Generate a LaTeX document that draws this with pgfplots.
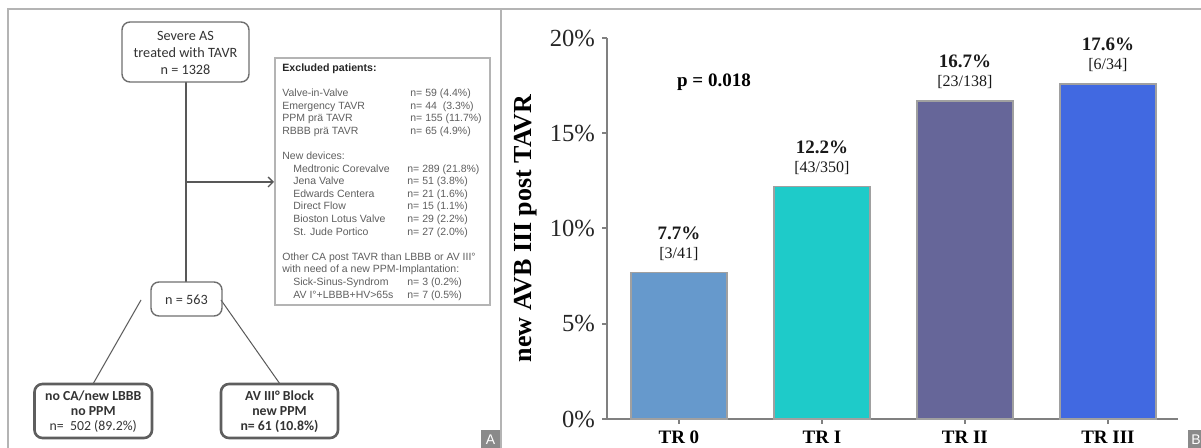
\documentclass[border=0pt]{standalone}
\usepackage{pgfplots}
\pgfplotsset{compat=1.18}
\usepackage{fontspec}
\usetikzlibrary{arrows.meta}
\setmainfont{Liberation Serif}
\newfontfamily\arialf{Liberation Sans}
\newfontfamily\calib{Carlito}
\definecolor{cA}{HTML}{6699CC}
\definecolor{cB}{HTML}{1ECBC9}
\definecolor{cC}{HTML}{666699}
\definecolor{cD}{HTML}{4169E1}
\definecolor{framegray}{HTML}{B4B4B4}
\definecolor{axgray}{HTML}{808080}
\definecolor{bargray}{HTML}{A0A0A0}
\definecolor{exgray}{HTML}{5E5E5E}
\definecolor{boxline}{HTML}{6E6E6E}
\definecolor{boxtext}{HTML}{333333}
\definecolor{lblgray}{HTML}{8A8A8A}
\newcommand{\exl}[3]{\node[anchor=base west,inner sep=0pt,font=\arialf\fontsize{5.25}{6}\selectfont,text=exgray] at (#1,#2) {#3};}
\begin{document}
\begin{tikzpicture}
\path[use as bounding box] (0,0) rectangle (600.5pt,-224pt);
\begin{scope}[x=0.5pt,y=-0.5pt]
  % panel frames
  \draw[framegray,line width=0.8pt] (8,460) -- (8,9) -- (1210,9);
  \draw[framegray,line width=0.8pt] (501,9) -- (501,460);
  % panel letters
  \fill[lblgray] (481,430) rectangle (500,450);
  \node[white,font=\arialf\fontsize{7}{8}\selectfont] at (490.5,440) {A};
  \fill[lblgray] (1188,430) rectangle (1215,450);
  \node[white,font=\arialf\fontsize{7}{8}\selectfont] at (1196,440) {B};
  % connectors
  \draw[boxline!80!black,line width=0.7pt] (186,82) -- (186,282);
  \draw[boxline!80!black,line width=0.7pt,-{Straight Barb[length=2.5pt,width=5pt]}] (186,182) -- (274,182);
  \draw[boxline!80!black,line width=0.5pt] (141,300) -- (93,384);
  \draw[boxline!80!black,line width=0.5pt] (221,300) -- (280,384);
  % top box
  \draw[boxline,line width=0.7pt,rounded corners=4pt] (122,22) rectangle (249,82);
  \node[align=center,text=boxtext,font=\calib\fontsize{7.1}{8.5}\selectfont] at (185.5,53) {Severe AS\\treated with TAVR\\n = 1328};
  % middle box
  \draw[boxline,line width=0.7pt,rounded corners=4pt] (151,282) rectangle (222,316);
  \node[text=boxtext,font=\calib\fontsize{7.1}{8.5}\selectfont] at (186.5,300) {n = 563};
  % bottom boxes
  \draw[boxline!85!black,line width=1.3pt,rounded corners=4pt] (34.5,384) rectangle (152,438);
  \node[align=center,text=boxtext,font=\calib\fontsize{6.9}{7.6}\selectfont] at (93.25,411.5) {\textbf{no CA/new LBBB}\\\textbf{no PPM}\\n=~ 502 (89.2\%)};
  \draw[boxline!85!black,line width=1.3pt,rounded corners=4pt] (221,384) rectangle (338,438);
  \node[align=center,text=boxtext,font=\calib\bfseries\fontsize{6.9}{7.6}\selectfont] at (279.5,411.5) {AV III° Block\\new PPM\\n= 61 (10.8\%)};
  % excluded box
  \draw[framegray,line width=0.7pt] (275,58) rectangle (490,305);
  \node[anchor=base west,inner sep=0pt,font=\arialf\bfseries\fontsize{5.3}{6}\selectfont,text=black!85] at (282,71.3) {Excluded patients:};
  \exl{282}{96.5}{Valve-in-Valve}      \exl{410}{96.5}{n= 59 (4.4\%)}
  \exl{282}{109.1}{Emergency TAVR}     \exl{410}{109.1}{n= 44~ (3.3\%)}
  \exl{282}{121.7}{PPM prä TAVR}       \exl{410}{121.7}{n= 155 (11.7\%)}
  \exl{282}{134.3}{RBBB prä TAVR}      \exl{410}{134.3}{n= 65 (4.9\%)}
  \exl{282}{159.5}{New devices:}
  \exl{293}{172.1}{Medtronic Corevalve} \exl{407}{172.1}{n= 289 (21.8\%)}
  \exl{293}{184.7}{Jena Valve}          \exl{407}{184.7}{n= 51 (3.8\%)}
  \exl{293}{197.3}{Edwards Centera}     \exl{407}{197.3}{n= 21 (1.6\%)}
  \exl{293}{209.9}{Direct Flow}         \exl{407}{209.9}{n= 15 (1.1\%)}
  \exl{293}{222.5}{Bioston Lotus Valve} \exl{407}{222.5}{n= 29 (2.2\%)}
  \exl{293}{235.1}{St. Jude Portico}    \exl{407}{235.1}{n= 27 (2.0\%)}
  \exl{282}{260.3}{Other CA post TAVR than LBBB or AV III°}
  \exl{282}{272.9}{with need of a new PPM-Implantation:}
  \exl{293}{285.5}{Sick-Sinus-Syndrom}  \exl{407}{285.5}{n= 3 (0.2\%)}
  \exl{293}{298.1}{AV I°+LBBB+HV>65s}  \exl{407}{298.1}{n= 7 (0.5\%)}
\end{scope}
\begin{axis}[
  at={(303.5pt,-209.5pt)}, anchor=south west,
  scale only axis, width=285.5pt, height=190.5pt,
  xmin=-0.503, xmax=3.49, ymin=0, ymax=20,
  axis lines*=left,
  axis line style={draw=axgray,line width=1.1pt},
  ybar, bar width=48pt, bar shift=0pt,
  xtick={0,1,2,3},
  xticklabels={TR 0,TR I,TR II,TR III},
  xticklabel style={font=\fontsize{9.5}{10}\bfseries\selectfont,text=black},
  ytick={0,5,10,15,20},
  yticklabel={\pgfmathprintnumber{\tick}\%},
  yticklabel style={font=\fontsize{12.3}{13}\selectfont,text=black!85},
  /pgf/number format/assume math mode=true,
  tick align=outside, major tick length=2.5pt,
  tick style={draw=axgray,line width=1pt},
  ylabel={new AVB III post TAVR},
  ylabel style={font=\fontsize{13}{14}\bfseries\selectfont,at={(axis description cs:-0.142,0.5)},anchor=center},
  point meta=explicit symbolic,
  visualization depends on={y \as \rawy},
  nodes near coords={\fontsize{9.5}{10}\bfseries\selectfont\pgfmathprintnumber[fixed,fixed zerofill,precision=1]{\rawy}\%\\[-2.5pt]\fontsize{8}{9}\mdseries\selectfont[\pgfplotspointmeta]},
  every node near coord/.append style={align=center,anchor=south,inner sep=0pt,yshift=5.5pt,text=black!90},
  clip=false,
]
\addplot[fill=cA,draw=bargray,line width=0.8pt] coordinates {(0,7.7) [3/41]};
\addplot[fill=cB,draw=bargray,line width=0.8pt] coordinates {(1,12.2) [43/350]};
\addplot[fill=cC,draw=bargray,line width=0.8pt] coordinates {(2,16.7) [23/138]};
\addplot[fill=cD,draw=bargray,line width=0.8pt] coordinates {(3,17.6) [6/34]};
\node[font=\fontsize{9.5}{10}\bfseries\selectfont] at (axis cs:0.245,17.69) {p = 0.018};
\end{axis}
\end{tikzpicture}
\end{document}
